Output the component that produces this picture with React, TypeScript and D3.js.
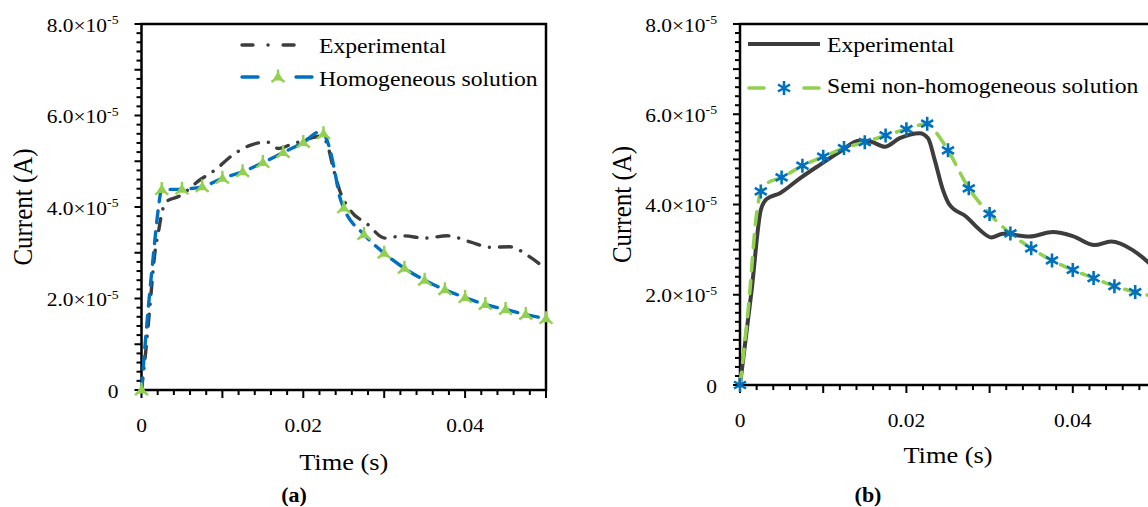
import React, { useEffect, useRef } from "react";
import * as d3 from "d3";

// current values are in units of 1e-5 A
// panel (a)
const expAT = [0, 0.0005, 0.001, 0.0017, 0.0021, 0.0025, 0.0031, 0.0047, 0.0072, 0.0091, 0.0113, 0.0136, 0.0155, 0.0169, 0.0184, 0.0208, 0.0222, 0.023, 0.0237, 0.0245, 0.0258, 0.0279, 0.0301, 0.0324, 0.035, 0.0378, 0.0406, 0.0431, 0.0455, 0.048, 0.05];
const expAI = [0, 0.8, 1.75, 3.06, 3.46, 3.86, 4.12, 4.24, 4.59, 4.81, 5.14, 5.36, 5.42, 5.28, 5.36, 5.5, 5.55, 5.35, 4.85, 4.36, 3.93, 3.63, 3.32, 3.37, 3.32, 3.37, 3.24, 3.12, 3.13, 2.91, 2.64];

const homT = [0, 0.0005, 0.001, 0.0015, 0.002, 0.0025, 0.005, 0.0075, 0.01, 0.0125, 0.015, 0.0175, 0.02, 0.022, 0.0225, 0.0233, 0.0239, 0.0245, 0.025, 0.0275, 0.03, 0.0325, 0.035, 0.0375, 0.04, 0.0425, 0.045, 0.0475, 0.05];
const homI = [0, 1.1, 2.1, 3.0, 3.85, 4.38, 4.39, 4.44, 4.63, 4.77, 4.97, 5.19, 5.41, 5.64, 5.6, 5.25, 4.77, 4.22, 3.98, 3.4, 2.99, 2.66, 2.4, 2.19, 2.02, 1.87, 1.76, 1.65, 1.56];

// panel (b)
const expBT = [0, 0.0003, 0.0014, 0.0025, 0.0032, 0.0048, 0.0072, 0.0096, 0.012, 0.0144, 0.0158, 0.0174, 0.0192, 0.0216, 0.0226, 0.0234, 0.0244, 0.0252, 0.0272, 0.0288, 0.0302, 0.0316, 0.0348, 0.0376, 0.04, 0.0426, 0.0446, 0.0472, 0.049, 0.05];
const expBI = [0, 0.45, 2.1, 3.88, 4.12, 4.25, 4.58, 4.88, 5.17, 5.42, 5.39, 5.28, 5.47, 5.58, 5.47, 4.99, 4.32, 3.99, 3.73, 3.44, 3.27, 3.35, 3.29, 3.39, 3.3, 3.1, 3.18, 2.99, 2.73, 2.55];

const semiT = [0, 0.001, 0.002, 0.0025, 0.0032, 0.005, 0.0075, 0.01, 0.0125, 0.015, 0.0175, 0.02, 0.0225, 0.0236, 0.025, 0.0275, 0.03, 0.0325, 0.035, 0.0375, 0.04, 0.0425, 0.045, 0.0475, 0.05];
const semiI = [0, 1.7, 3.8, 4.29, 4.46, 4.6, 4.86, 5.06, 5.25, 5.38, 5.53, 5.67, 5.79, 5.59, 5.2, 4.36, 3.79, 3.36, 3.03, 2.76, 2.55, 2.37, 2.19, 2.06, 1.95];

const yTicks = [0, 2, 4, 6, 8];
const xTicks = [0, 0.02, 0.04];

const FONT = "'Liberation Serif', 'Times New Roman', serif";
const SX = 1.1; // the source figure is a bit stretched sideways
const DARK = "#3d3d3d";
const BLUE = "#0070c0";
const GREEN = "#92d050";

const zip = (t: number[], v: number[]) => t.map((d, i) => [d, v[i]] as [number, number]);
const onMarker = (t: number) => Math.abs(t / 0.0025 - Math.round(t / 0.0025)) < 1e-6;

function text(g: any, x: number, y: number, s: string, size: number, anchor = "start", weight = "normal") {
  return g
    .append("text")
    .attr("transform", `translate(${x},${y}) scale(${SX},1)`)
    .attr("text-anchor", anchor)
    .attr("font-family", FONT)
    .attr("font-size", size)
    .attr("font-weight", weight)
    .attr("fill", "#000")
    .text(s);
}

function triStar(g: any, x: number, y: number) {
  const m = g.append("g").attr("transform", `translate(${x},${y})`);
  m.append("path").attr("d", "M0,-5.5L5.5,3.5L-5.5,3.5Z").attr("fill", GREEN);
  m.append("path")
    .attr("d", "M0,0L0,-7.5M0,0L-6.5,5M0,0L6.5,5")
    .attr("stroke", GREEN)
    .attr("stroke-width", 2.4)
    .attr("fill", "none");
}

function asterisk(g: any, x: number, y: number) {
  g.append("path")
    .attr("transform", `translate(${x},${y})`)
    .attr("d", "M0,-7L0,7M-6,-3.5L6,3.5M-6,3.5L6,-3.5")
    .attr("stroke", BLUE)
    .attr("stroke-width", 2.6)
    .attr("fill", "none");
}

function drawFrame(g: any, x: any, y: any, p: any) {
  const [x0, x1] = x.range();
  const [y0, y1] = y.range();

  // minor / major ticks
  const yMinor = d3.range(0, 8.0001, 0.2);
  g.selectAll(null)
    .data(yMinor)
    .enter()
    .append("line")
    .attr("x1", x0)
    .attr("x2", (d: number) => x0 - (Math.abs(d - Math.round(d)) < 1e-6 ? 7 : 5))
    .attr("y1", (d: number) => y(d))
    .attr("y2", (d: number) => y(d))
    .attr("stroke", "#000")
    .attr("stroke-width", 2);

  const xMinor = d3.range(0, 0.05001, 0.002);
  g.selectAll(null)
    .data(xMinor)
    .enter()
    .append("line")
    .attr("x1", (d: number) => x(d))
    .attr("x2", (d: number) => x(d))
    .attr("y1", y0)
    .attr("y2", (d: number) => y0 + (Math.abs(d * 100 - Math.round(d * 100)) < 1e-6 ? 8 : 5))
    .attr("stroke", "#000")
    .attr("stroke-width", 2);

  g.append("rect")
    .attr("x", x0)
    .attr("y", y1)
    .attr("width", x1 - x0)
    .attr("height", y0 - y1)
    .attr("fill", "none")
    .attr("stroke", "#000")
    .attr("stroke-width", 2.5);

  // tick labels
  yTicks.forEach((v) => {
    const t = g
      .append("text")
      .attr("transform", `translate(${x0 - 23},${y(v) + 7.5}) scale(${SX},1)`)
      .attr("text-anchor", "end")
      .attr("font-family", FONT)
      .attr("font-size", 19.5)
      .attr("fill", "#000");
    if (v === 0) t.text("0");
    else {
      t.append("tspan").text(`${v.toFixed(1)}×10`);
      t.append("tspan").attr("font-size", 12.5).attr("dy", -7.5).text("-5");
    }
  });
  xTicks.forEach((v) => text(g, x(v), y0 + 42, v === 0 ? "0" : String(v), 19.5, "middle"));

  text(g, (x0 + x1) / 2, y0 + p.timeDy, "Time (s)", 24, "middle");
  g.append("text")
    .attr("transform", `translate(${p.titleX},${(y0 + y1) / 2}) rotate(-90) scale(1,${SX})`)
    .attr("text-anchor", "middle")
    .attr("dominant-baseline", "central")
    .attr("font-family", FONT)
    .attr("font-size", 25)
    .text("Current (A)");
  text(g, p.captionX, 502, p.caption, 20, "middle", "bold");
}

export default function App() {
  const ref = useRef<SVGSVGElement>(null);

  useEffect(() => {
    const svg = d3.select(ref.current);
    svg.selectAll("*").remove();
    const g = svg.append("g");

    // ---------- panel (a)
    const xa = d3.scaleLinear().domain([0, 0.05]).range([141.5, 546]);
    const ya = d3.scaleLinear().domain([0, 8]).range([390, 24]);
    drawFrame(g, xa, ya, { titleX: 23, captionX: 294, caption: "(a)", timeDy: 80 });

    const lineA = d3
      .line<[number, number]>()
      .x((d) => xa(d[0]))
      .y((d) => ya(d[1]))
      .curve(d3.curveMonotoneX);

    g.append("path")
      .attr("d", lineA(zip(expAT, expAI)))
      .attr("fill", "none")
      .attr("stroke", DARK)
      .attr("stroke-width", 3.4)
      .attr("stroke-linecap", "round")
      .attr("stroke-dasharray", "12,10,0.1,10");

    const homPts = zip(homT, homI);
    g.append("path")
      .attr("d", lineA(homPts))
      .attr("fill", "none")
      .attr("stroke", BLUE)
      .attr("stroke-width", 3.4)
      .attr("stroke-linecap", "round")
      .attr("stroke-dasharray", "12,9");
    homPts.filter((d) => onMarker(d[0])).forEach((d) => triStar(g, xa(d[0]), ya(d[1])));

    // legend (a)
    g.append("line")
      .attr("x1", 242).attr("x2", 303).attr("y1", 45).attr("y2", 45)
      .attr("stroke", DARK).attr("stroke-width", 3.4).attr("stroke-linecap", "round")
      .attr("stroke-dasharray", "11,15,0.1,15");
    text(g, 319, 52.5, "Experimental", 21.5);
    g.append("line")
      .attr("x1", 242).attr("x2", 313).attr("y1", 77).attr("y2", 77)
      .attr("stroke", BLUE).attr("stroke-width", 3.4).attr("stroke-linecap", "round")
      .attr("stroke-dasharray", "16,38");
    triStar(g, 278, 77);
    text(g, 319, 85.5, "Homogeneous solution", 21.5);

    // ---------- panel (b)
    const xb = d3.scaleLinear().domain([0, 0.05]).range([740, 1156]);
    const yb = d3.scaleLinear().domain([0, 8]).range([385, 24]);
    drawFrame(g, xb, yb, { titleX: 622, captionX: 868, caption: "(b)", timeDy: 78 });

    const lineB = d3
      .line<[number, number]>()
      .x((d) => xb(d[0]))
      .y((d) => yb(d[1]))
      .curve(d3.curveMonotoneX);

    g.append("path")
      .attr("d", lineB(zip(expBT, expBI)))
      .attr("fill", "none")
      .attr("stroke", DARK)
      .attr("stroke-width", 4);

    const semiPts = zip(semiT, semiI);
    g.append("path")
      .attr("d", lineB(semiPts))
      .attr("fill", "none")
      .attr("stroke", GREEN)
      .attr("stroke-width", 3.6)
      .attr("stroke-linecap", "round")
      .attr("stroke-dasharray", "13,10");
    semiPts.filter((d) => onMarker(d[0])).forEach((d) => asterisk(g, xb(d[0]), yb(d[1])));

    // legend (b)
    g.append("line")
      .attr("x1", 748).attr("x2", 820).attr("y1", 44).attr("y2", 44)
      .attr("stroke", DARK).attr("stroke-width", 4);
    text(g, 827, 52, "Experimental", 21.5);
    g.append("line")
      .attr("x1", 749).attr("x2", 819).attr("y1", 88).attr("y2", 88)
      .attr("stroke", GREEN).attr("stroke-width", 3.6).attr("stroke-linecap", "round")
      .attr("stroke-dasharray", "15,40");
    asterisk(g, 784, 88);
    text(g, 827, 93, "Semi non-homogeneous solution", 21.5);
  }, []);

  return (
    <svg
      ref={ref}
      width={1148}
      height={507}
      style={{ position: "absolute", left: 0, top: 0, background: "#fff" }}
    />
  );
}
